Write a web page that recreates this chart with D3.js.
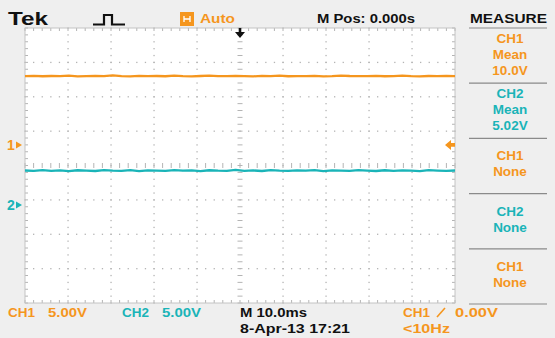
<!DOCTYPE html>
<html>
<head>
<meta charset="utf-8">
<script src="https://cdn.jsdelivr.net/npm/d3@7"></script>
<style>
  html, body { margin: 0; padding: 0; background: #efefef; }
  svg { display: block; }
  text { font-family: "Liberation Sans", Arial, sans-serif; font-weight: bold; }
</style>
</head>
<body>
<svg id="scope" width="555" height="338"></svg>
<script>
// ---- Acquisition settings ----
const timePerDiv = 10;          // ms / div
const horizDivs = 10;
const vertDivs = 8;
const channels = ["CH1", "CH2"];
const voltsPerDiv = [5.0, 5.0];
const groundPositionDiv = [0.6, -1.15];   // channel ground marker, in divisions from centre
const triggerLevel = 0.0;                 // V on CH1

// ---- Captured samples (V), evenly spaced across the record ----
const ch1Samples = [10.0, 10.05, 9.98, 10.02, 10.0, 10.08, 9.97, 10.01, 10.04, 9.99,
  10.1, 10.0, 9.96, 10.03, 10.0, 10.02, 9.98, 10.06, 10.0, 9.97,
  10.02, 10.08, 10.0, 9.99, 10.04, 10.0, 9.97, 10.03, 10.0, 10.07,
  9.98, 10.01, 10.0, 10.05, 9.97, 10.0, 10.08, 10.02, 9.99, 10.0,
  10.03, 9.98, 10.0, 10.06, 10.0, 9.97, 10.02, 10.0, 10.04, 10.0];
const ch2Samples = [5.02, 4.96, 5.08, 4.98, 5.05, 4.94, 5.06, 5.0, 4.95, 5.09,
  5.0, 4.97, 5.07, 4.93, 5.04, 5.01, 4.96, 5.08, 4.99, 5.05,
  4.94, 5.06, 5.0, 4.97, 5.1, 4.98, 5.03, 4.95, 5.07, 5.0,
  4.96, 5.05, 4.99, 5.08, 4.94, 5.03, 5.0, 4.96, 5.07, 5.01,
  4.95, 5.06, 4.98, 5.04, 5.0, 4.93, 5.07, 5.01, 4.97, 5.02];

// ---- Readouts ----
const measureLabels = [["CH1", "Mean", "10.0V"], ["CH2", "Mean", "5.02V"],
  ["CH1", "None"], ["CH2", "None"], ["CH1", "None"]];
const measureChannel = [0, 1, 0, 1, 0];
const scaleLabels = ["5.00V", "5.00V"];
const timebaseLabel = "M 10.0ms";
const dateLabel = "8-Apr-13 17:21";
const positionLabel = "M Pos: 0.000s";
const triggerLabel = "0.00V";
const freqLabel = "<10Hz";

const colors = ["#f5961e", "#1ab4b8"];
const gridColor = "#b4b4b4";

const svg = d3.select("#scope");

// ---- Graticule geometry ----
const plot = { left: 25, right: 455, top: 28, bottom: 303 };
const x = d3.scaleLinear().domain([-horizDivs / 2 * timePerDiv, horizDivs / 2 * timePerDiv])
  .range([plot.left, plot.right]);
const yDiv = d3.scaleLinear().domain([-vertDivs / 2, vertDivs / 2]).range([plot.bottom, plot.top]);
const chY = (ch, v) => yDiv(groundPositionDiv[ch] + v / voltsPerDiv[ch]);

svg.append("rect").attr("x", plot.left).attr("y", plot.top)
  .attr("width", plot.right - plot.left).attr("height", plot.bottom - plot.top)
  .attr("fill", "#ffffff");

const grid = svg.append("g");
const minorT = timePerDiv / 5, minorV = 1 / 5;
const tTicks = d3.range(x.domain()[0], x.domain()[1] + 0.001, minorT);
const vTicks = d3.range(-vertDivs / 2, vertDivs / 2 + 0.001, minorV);

// dots along major gridlines
for (let i = 1; i < horizDivs; i++) {
  if (i === horizDivs / 2) continue;
  const t = x.domain()[0] + i * timePerDiv;
  vTicks.forEach(v => grid.append("rect").attr("x", x(t) - 0.6).attr("y", yDiv(v) - 0.6)
    .attr("width", 1.3).attr("height", 1.3).attr("fill", gridColor));
}
for (let j = 1; j < vertDivs; j++) {
  if (j === vertDivs / 2) continue;
  const v = -vertDivs / 2 + j;
  tTicks.forEach(t => grid.append("rect").attr("x", x(t) - 0.6).attr("y", yDiv(v) - 0.6)
    .attr("width", 1.3).attr("height", 1.3).attr("fill", gridColor));
}
// centre cross ticks
vTicks.forEach(v => grid.append("line").attr("x1", x(0) - 2.5).attr("x2", x(0) + 2.5)
  .attr("y1", yDiv(v)).attr("y2", yDiv(v)).attr("stroke", gridColor));
tTicks.forEach(t => grid.append("line").attr("x1", x(t)).attr("x2", x(t))
  .attr("y1", yDiv(0) - 2.5).attr("y2", yDiv(0) + 2.5).attr("stroke", gridColor));
// border ticks
vTicks.forEach(v => {
  grid.append("line").attr("x1", plot.left).attr("x2", plot.left + 3)
    .attr("y1", yDiv(v)).attr("y2", yDiv(v)).attr("stroke", gridColor);
  grid.append("line").attr("x1", plot.right - 3).attr("x2", plot.right)
    .attr("y1", yDiv(v)).attr("y2", yDiv(v)).attr("stroke", gridColor);
});
tTicks.forEach(t => {
  grid.append("line").attr("x1", x(t)).attr("x2", x(t))
    .attr("y1", plot.top).attr("y2", plot.top + 3).attr("stroke", gridColor);
  grid.append("line").attr("x1", x(t)).attr("x2", x(t))
    .attr("y1", plot.bottom - 3).attr("y2", plot.bottom).attr("stroke", gridColor);
});
grid.append("rect").attr("x", plot.left).attr("y", plot.top)
  .attr("width", plot.right - plot.left).attr("height", plot.bottom - plot.top)
  .attr("fill", "none").attr("stroke", "#c4c4c4");

// ---- Traces ----
[ch1Samples, ch2Samples].forEach((samples, ch) => {
  const step = (x.domain()[1] - x.domain()[0]) / (samples.length - 1);
  const line = d3.line().x((d, i) => x(x.domain()[0] + i * step)).y(d => chY(ch, d));
  svg.append("path").datum(samples).attr("d", line).attr("fill", "none")
    .attr("stroke", colors[ch]).attr("stroke-width", 2.3).attr("stroke-linejoin", "round");
});

// ---- Ground markers on the left ----
channels.forEach((c, ch) => {
  const yy = chY(ch, 0);
  svg.append("text").attr("x", 7).attr("y", yy + 5).attr("font-size", 14)
    .attr("fill", colors[ch]).text(String(ch + 1));
  svg.append("path").attr("d", `M16,${yy - 3.5}L22,${yy}L16,${yy + 3.5}Z`).attr("fill", colors[ch]);
});

// trigger position (top) and trigger level (right)
svg.append("path").attr("fill", "#111")
  .attr("d", `M${x(0) - 1.3},28 h2.6 v4 h3.7 l-5,6 l-5,-6 h3.7 Z`);
const ty = chY(0, triggerLevel);
svg.append("path").attr("fill", colors[0])
  .attr("d", `M${plot.right - 10},${ty} l6,-5 v3.2 h4 v3.6 h-4 v3.2 Z`);

// ---- Top status bar ----
svg.append("text").attr("x", 8).attr("y", 25).attr("font-size", 18).attr("font-weight", 900)
  .attr("fill", "#111").attr("textLength", 40).attr("lengthAdjust", "spacingAndGlyphs").text("Tek");
svg.append("path").attr("fill", "none").attr("stroke", "#111").attr("stroke-width", 2.2)
  .attr("d", "M93,24.5 H104 V15 H112 V24.5 H125");
svg.append("rect").attr("x", 180).attr("y", 12).attr("width", 14).attr("height", 14).attr("fill", colors[0]);
svg.append("path").attr("fill", "none").attr("stroke", "#fff").attr("stroke-width", 1.3)
  .attr("d", "M184,16 v6 M184,19 h6 v-3 M190,19 v3");
svg.append("text").attr("x", 200).attr("y", 23).attr("font-size", 13).attr("fill", colors[0])
  .attr("textLength", 35).attr("lengthAdjust", "spacingAndGlyphs").text("Auto");
svg.append("text").attr("x", 317).attr("y", 23).attr("font-size", 13).attr("fill", "#111")
  .attr("textLength", 98).attr("lengthAdjust", "spacingAndGlyphs").text(positionLabel);
svg.append("text").attr("x", 470).attr("y", 23).attr("font-size", 13).attr("fill", "#111")
  .attr("textLength", 77).attr("lengthAdjust", "spacingAndGlyphs").text("MEASURE");

// ---- Measurement panel ----
const panelX = [469, 547], panelTop = 28, boxH = 55.2;
svg.append("line").attr("x1", panelX[0]).attr("x2", panelX[1]).attr("y1", panelTop).attr("y2", panelTop)
  .attr("stroke", "#8a8a8a").attr("stroke-width", 1.2);
measureLabels.forEach((lines, k) => {
  const top = panelTop + k * boxH;
  const col = colors[measureChannel[k]];
  const first = lines.length === 3 ? top + 15 : top + 22;
  lines.forEach((s, i) => {
    svg.append("text").attr("x", 510).attr("y", first + i * 16).attr("text-anchor", "middle")
      .attr("font-size", 13.5).attr("fill", col).text(s);
  });
  svg.append("line").attr("x1", panelX[0]).attr("x2", panelX[1])
    .attr("y1", top + boxH).attr("y2", top + boxH).attr("stroke", "#8a8a8a").attr("stroke-width", 1.2);
});

// ---- Bottom readouts ----
channels.forEach((c, ch) => {
  const bx = [8, 122][ch];
  svg.append("text").attr("x", bx).attr("y", 317).attr("font-size", 13).attr("fill", colors[ch])
    .attr("textLength", 27).attr("lengthAdjust", "spacingAndGlyphs").text(c);
  svg.append("text").attr("x", bx + 40).attr("y", 317).attr("font-size", 13).attr("fill", colors[ch])
    .attr("textLength", 39).attr("lengthAdjust", "spacingAndGlyphs").text(scaleLabels[ch]);
});
svg.append("text").attr("x", 240).attr("y", 317).attr("font-size", 13).attr("fill", "#111")
  .attr("textLength", 67).attr("lengthAdjust", "spacingAndGlyphs").text(timebaseLabel);
svg.append("text").attr("x", 240).attr("y", 333).attr("font-size", 13).attr("fill", "#111")
  .attr("textLength", 110).attr("lengthAdjust", "spacingAndGlyphs").text(dateLabel);
svg.append("text").attr("x", 403).attr("y", 317).attr("font-size", 13).attr("fill", colors[0])
  .attr("textLength", 27).attr("lengthAdjust", "spacingAndGlyphs").text("CH1");
svg.append("path").attr("fill", "none").attr("stroke", colors[0]).attr("stroke-width", 1.6)
  .attr("d", "M437,317 L445,308");
svg.append("text").attr("x", 455).attr("y", 317).attr("font-size", 13).attr("fill", colors[0])
  .attr("textLength", 43).attr("lengthAdjust", "spacingAndGlyphs").text(triggerLabel);
svg.append("text").attr("x", 403).attr("y", 333).attr("font-size", 13).attr("fill", colors[0])
  .attr("textLength", 47).attr("lengthAdjust", "spacingAndGlyphs").text(freqLabel);
</script>
</body>
</html>
